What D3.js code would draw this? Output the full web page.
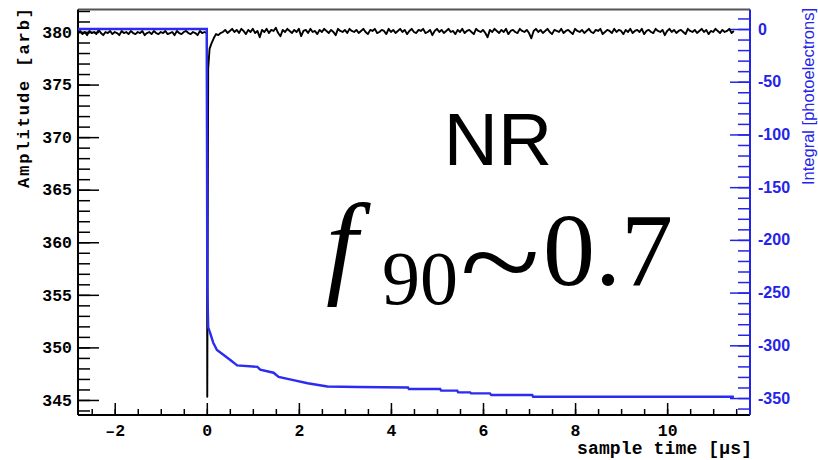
<!DOCTYPE html>
<html>
<head>
<meta charset="utf-8">
<script src="https://cdn.jsdelivr.net/npm/d3@7.9.0/dist/d3.min.js"></script>
<style>
  body { margin: 0; background: #fff; }
  svg { display: block; }
</style>
</head>
<body>
<script>
// amplitude trace (black), before the trigger: -2.8 .. -0.05 us
const preAmplitude = [379.9, 380.1, 379.8, 380.0, 379.7, 380.1, 379.9, 380.0, 379.8, 380.2, 379.9, 379.7, 380.0, 379.9,
  380.1, 379.8, 380.0, 379.9, 379.7, 380.1, 379.9, 380.0, 379.8, 380.1, 379.9, 379.8, 380.0, 379.9, 380.1, 379.7,
  379.9, 380.0, 379.8, 380.1, 379.9, 379.8, 380.0, 379.9, 380.1, 379.8, 379.9, 380.0, 379.7, 380.1, 379.9, 379.8,
  380.0, 380.1, 379.9, 379.8, 380.0, 379.9, 379.7, 380.1, 379.9, 380.0];
const preRange = [-2.8, -0.05];

// the pulse itself
const pulseTimes = [0.0, 0.01, 0.03, 0.06, 0.1, 0.15, 0.2];
const pulseAmplitude = [379.9, 345.3, 376.5, 378.4, 378.9, 379.4, 379.8];

// amplitude trace after the pulse: 0.25 .. 11.45 us
const postAmplitude = [
  379.7, 379.9, 380.0, 380.2, 379.9, 380.1, 380.3, 380.0, 380.2, 379.9, 380.3, 380.1, 379.8, 380.2, 380.0, 380.3, 379.9, 380.1, 379.5, 380.2,
  380.0, 380.3, 379.9, 380.2, 380.1, 380.4, 379.9, 379.6, 380.2, 380.0, 380.3, 380.1, 379.9, 380.2, 380.0, 380.3, 379.6, 380.1, 380.2, 379.9,
  380.3, 380.0, 380.1, 379.8, 380.2, 380.0, 380.3, 380.1, 379.9, 380.2, 380.0, 379.7, 380.3, 380.1, 380.0, 380.2, 379.9, 380.3, 380.1, 380.0,
  380.2, 379.9, 380.1, 380.3, 380.0, 379.8, 380.2, 380.1, 380.3, 379.9, 380.0, 380.2, 380.1, 379.8, 380.3, 380.0, 380.2, 379.9, 380.1, 380.3,
  380.0, 380.2, 379.8, 380.1, 380.3, 380.0, 379.9, 380.2, 380.1, 380.3, 379.9, 380.0, 380.2, 379.7, 380.1, 380.3, 380.0, 380.2, 379.9, 380.1,
  380.3, 380.0, 380.1, 379.8, 380.2, 380.0, 380.3, 379.9, 380.1, 380.2, 380.0, 379.8, 380.3, 380.1, 380.0, 380.2, 379.9, 379.5, 380.2, 380.0,
  380.3, 380.1, 379.9, 380.2, 380.0, 380.3, 379.8, 380.1, 380.2, 380.0, 379.9, 380.3, 380.1, 380.0, 380.2, 379.9, 379.4, 380.1, 380.3, 380.0,
  380.2, 379.9, 380.1, 380.3, 380.0, 379.8, 380.2, 380.1, 380.0, 380.3, 379.9, 380.1, 380.2, 380.0, 379.8, 380.3, 380.1, 380.0, 380.2, 379.9,
  380.1, 380.3, 380.0, 379.9, 380.2, 380.1, 380.3, 379.8, 380.0, 380.2, 380.1, 379.9, 380.3, 380.0, 380.2, 380.1, 379.8, 380.2, 380.0, 380.3,
  379.9, 380.1, 380.2, 380.0, 380.3, 379.8, 380.1, 380.2, 380.0, 379.9, 380.3, 380.1, 380.0, 380.2, 379.7, 380.1, 380.3, 380.0, 380.2, 379.9,
  380.1, 380.2, 380.0, 379.8, 380.3, 380.1, 380.0, 380.2, 379.9, 380.1, 380.3, 380.0, 380.2, 379.8, 380.1, 380.0, 380.3, 380.1, 379.9, 380.2,
  380.0, 380.1, 380.3, 379.9, 380.1];
const postRange = [0.25, 11.45];

// integral (blue), photoelectrons
const integralTimes = [-2.8, 0.0, 0.01, 0.03, 0.07, 0.14, 0.22, 0.36, 0.51, 0.66, 1.10, 1.16, 1.45, 1.56, 1.88, 2.19,
  2.62, 3.28, 4.37, 4.39, 5.07, 5.09, 5.44, 5.46, 5.72, 5.74, 6.15, 6.18, 7.07, 7.09, 11.45];
const integralValues = [0, 0, -240, -283, -288, -297.5, -304.5, -309, -314, -319, -320.5, -323, -326, -330, -333, -336,
  -339, -339.5, -340, -341.5, -341.5, -343, -343, -344.6, -344.6, -345.6, -345.6, -347.2, -347.2, -348.8, -348.8];

const timeTicks = [-2, 0, 2, 4, 6, 8, 10];
const amplitudeTicks = [345, 350, 355, 360, 365, 370, 375, 380];
const integralTicks = [0, -50, -100, -150, -200, -250, -300, -350];

const width = 818, height = 460;
const frame = { left: 78, right: 750, top: 9.5, bottom: 415 };
const blue = "#2424e8";

const svg = d3.select("body").append("svg").attr("width", width).attr("height", height);

const x = d3.scaleLinear().domain([-2.798, 11.8]).range([frame.left, frame.right]);
const yAmp = d3.scaleLinear().domain([343.57, 382.14]).range([frame.bottom, frame.top]);
const yInt = d3.scaleLinear().domain([-366.1, 18.5]).range([frame.bottom, frame.top]);

// frame
svg.append("line").attr("x1", frame.left).attr("x2", frame.right).attr("y1", frame.top).attr("y2", frame.top)
  .attr("stroke", "#555").attr("stroke-width", 2);

const monoFont = "'Liberation Mono', 'DejaVu Sans Mono', monospace";

function styleAxis(g, color) {
  g.select(".domain").remove();
  g.selectAll("line").attr("stroke", color).attr("stroke-width", 1.5);
  g.selectAll("text").attr("fill", color);
}

// bottom axis
svg.append("g").attr("transform", `translate(0,${frame.bottom})`)
  .call(d3.axisBottom(x).tickValues(d3.range(-2.5, 11.6, 0.5)).tickSizeInner(-6).tickSizeOuter(0).tickFormat(""))
  .call(g => styleAxis(g, "#000"));
svg.append("g").attr("transform", `translate(0,${frame.bottom})`)
  .call(d3.axisBottom(x).tickValues(timeTicks).tickSizeInner(-12).tickSizeOuter(0).tickPadding(9)
    .tickFormat(d => d < 0 ? "\u2013" + Math.abs(d) : String(d)))
  .call(g => styleAxis(g, "#000"))
  .call(g => g.selectAll("text").style("font", `bold 16.5px ${monoFont}`));

// left axis
svg.append("g").attr("transform", `translate(${frame.left},0)`)
  .call(d3.axisLeft(yAmp).tickValues(d3.range(344, 382.5, 1)).tickSizeInner(-12).tickSizeOuter(0).tickFormat(""))
  .call(g => styleAxis(g, "#000"));
svg.append("g").attr("transform", `translate(${frame.left},0)`)
  .call(d3.axisLeft(yAmp).tickValues(amplitudeTicks).tickSizeInner(-21).tickSizeOuter(0).tickPadding(6).tickFormat(d3.format("d")))
  .call(g => styleAxis(g, "#000"))
  .call(g => g.selectAll("text").style("font", `bold 16.5px ${monoFont}`));

// right axis
svg.append("g").attr("transform", `translate(${frame.right},0)`)
  .call(d3.axisRight(yInt).tickValues(d3.range(-360, 15, 10)).tickSizeInner(-12).tickSizeOuter(0).tickFormat(""))
  .call(g => styleAxis(g, blue));
svg.append("g").attr("transform", `translate(${frame.right},0)`)
  .call(d3.axisRight(yInt).tickValues(integralTicks).tickSizeInner(-20).tickSizeOuter(0).tickPadding(8).tickFormat(d => String(d)))
  .call(g => styleAxis(g, blue))
  .call(g => g.selectAll("text").style("font", "bold 16px 'Liberation Sans', Arial, sans-serif"));

// axis lines
svg.append("line").attr("x1", frame.left).attr("x2", frame.left).attr("y1", frame.top).attr("y2", frame.bottom)
  .attr("stroke", "#000").attr("stroke-width", 2);
svg.append("line").attr("x1", frame.left).attr("x2", frame.right).attr("y1", frame.bottom).attr("y2", frame.bottom)
  .attr("stroke", "#000").attr("stroke-width", 2);
svg.append("line").attr("x1", frame.right).attr("x2", frame.right).attr("y1", frame.top).attr("y2", frame.bottom)
  .attr("stroke", blue).attr("stroke-width", 2);

// amplitude trace
const preTime = d3.scaleLinear().domain([0, preAmplitude.length - 1]).range(preRange);
const postTime = d3.scaleLinear().domain([0, postAmplitude.length - 1]).range(postRange);
const amplitudePoints = []
  .concat(preAmplitude.map((v, i) => [preTime(i), v]))
  .concat(pulseTimes.map((t, i) => [t, pulseAmplitude[i]]))
  .concat(postAmplitude.map((v, i) => [postTime(i), v]));

svg.append("path")
  .datum(amplitudePoints)
  .attr("fill", "none")
  .attr("stroke", "#000")
  .attr("stroke-width", 1.9)
  .attr("stroke-linejoin", "round")
  .attr("d", d3.line().x(d => x(d[0])).y(d => yAmp(d[1])));

// integral trace
svg.append("path")
  .datum(integralTimes.map((t, i) => [t, integralValues[i]]))
  .attr("fill", "none")
  .attr("stroke", "#2b2bf2")
  .attr("stroke-width", 2.4)
  .attr("d", d3.line().x(d => x(d[0])).y(d => yInt(d[1])));

// axis titles
svg.append("text")
  .attr("transform", "translate(29,8) rotate(-90)")
  .attr("text-anchor", "end")
  .attr("textLength", 180).attr("lengthAdjust", "spacing")
  .style("font", `bold 17px ${monoFont}`)
  .text("Amplitude [arb]");

svg.append("text")
  .attr("x", 752).attr("y", 454)
  .attr("text-anchor", "end")
  .attr("textLength", 175).attr("lengthAdjust", "spacing")
  .style("font", `bold 18px ${monoFont}`)
  .text("sample time [\u00b5s]");

svg.append("text")
  .attr("transform", "translate(814,8) rotate(-90)")
  .attr("text-anchor", "end")
  .attr("fill", blue)
  .style("font", "16.5px 'Liberation Sans', Arial, sans-serif")
  .text("Integral [photoelectrons]");

// annotations
svg.append("text")
  .attr("x", 498).attr("y", 165)
  .attr("text-anchor", "middle")
  .style("font", "75px 'Liberation Sans', Arial, sans-serif")
  .text("NR");

const serif = "'Liberation Serif', 'Times New Roman', serif";
svg.append("text").attr("x", 326).attr("y", 283)
  .style("font", `italic 114px ${serif}`).text("f");
svg.append("text").attr("x", 382).attr("y", 304)
  .style("font", `76px ${serif}`).text("90");
svg.append("text").attr("x", 460).attr("y", 304)
  .attr("textLength", 80).attr("lengthAdjust", "spacingAndGlyphs")
  .style("font", `124px ${serif}`).text("~");
svg.append("text").attr("x", 543).attr("y", 285)
  .style("font", `104px ${serif}`).text("0.7");
</script>
</body>
</html>
